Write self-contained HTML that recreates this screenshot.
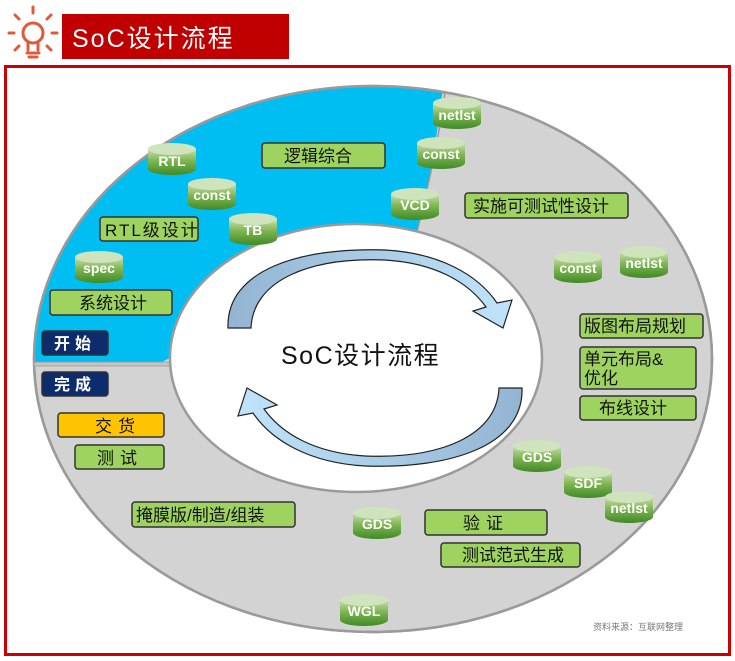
<!DOCTYPE html>
<html><head><meta charset="utf-8"><style>
html,body{margin:0;padding:0;background:#fff;width:735px;height:661px;overflow:hidden}
svg text{font-family:"Liberation Sans","Noto Sans CJK SC",sans-serif}
</style></head><body>
<svg width="735" height="661" viewBox="0 0 735 661" xmlns="http://www.w3.org/2000/svg">
<defs>
<linearGradient id="cyl" x1="0" y1="0" x2="0" y2="1">
<stop offset="0" stop-color="#c9e0b0"/><stop offset="0.45" stop-color="#7fb552"/><stop offset="1" stop-color="#3f8a25"/>
</linearGradient>
<linearGradient id="arr" x1="0" y1="0" x2="1" y2="0">
<stop offset="0" stop-color="#93b4d2"/><stop offset="1" stop-color="#bfe4fb"/>
</linearGradient>
<clipPath id="outer"><ellipse cx="373" cy="359" rx="339" ry="273"/></clipPath>
<g id="c">
<path d="M-24,-9 L-24,11 A24,6 0 0 0 24,11 L24,-9 Z" fill="url(#cyl)"/>
<ellipse cx="0" cy="-9" rx="24" ry="6" fill="#cfe3bd"/>
</g>
</defs>
<!-- header -->
<g stroke="#e05a3a" stroke-width="3" fill="none" stroke-linecap="round">
<circle cx="33" cy="33" r="10"/>
<path d="M28,43 L28,50 M38,43 L38,50 M27,53 L39,53 M29,57 L37,57"/>
<path d="M33,7 L33,13 M14,33 L9,33 M52,33 L57,33 M19,19 L15,15 M47,19 L51,15 M19,46 L15,50 M47,46 L51,50"/>
</g>
<rect x="62" y="14" width="227" height="45" fill="#c00000"/>
<text x="72" y="47" font-size="25" fill="#fff" letter-spacing="2">SoC设计流程</text>
<!-- frame -->
<rect x="5.5" y="66.5" width="724" height="588" fill="none" stroke="#cc0000" stroke-width="3"/>
<!-- outer ring -->
<ellipse cx="373" cy="359" rx="339" ry="273" fill="#d3d3d3" stroke="#9a9a9a" stroke-width="2.5"/>
<g clip-path="url(#outer)">
<path d="M20,363 L20,60 L446,60 C440,120 430,180 418,230 L160,363 Z" fill="#00bdf2"/>
<path d="M446,86 C440,130 430,180 418,228" fill="none" stroke="#9a9a9a" stroke-width="1.5"/>
</g>
<ellipse cx="373" cy="359" rx="339" ry="273" fill="none" stroke="#9a9a9a" stroke-width="2.5"/>
<rect x="34" y="362" width="140" height="4" fill="#c4c4c4" stroke="#9a9a9a" stroke-width="0.8"/>
<ellipse cx="356" cy="358" rx="186" ry="134" fill="#fff" stroke="#9a9a9a" stroke-width="2.5"/>
<!-- arrows -->
<g id="a">
<path d="M228,328 C226,270 300,247 385,250 C440,253 478,275 497,303 L512,300 L503,328 L473,311 L486,307 C468,282 435,263 385,260 C310,257 253,280 251,328 Z" fill="url(#arr)" stroke="#222" stroke-width="1.2"/>
</g>
<use href="#a" transform="rotate(180 375 358)"/>
<text x="281" y="364" font-size="25" fill="#111" letter-spacing="1.5">SoC设计流程</text>
<!-- cylinders -->
<g font-size="14" font-weight="bold" fill="#fff" text-anchor="middle">
<use href="#c" x="172" y="158"/><text x="172" y="166">RTL</text>
<use href="#c" x="212" y="193"/><text x="212" y="200">const</text>
<use href="#c" x="253" y="228"/><text x="253" y="235">TB</text>
<use href="#c" x="99" y="266"/><text x="99" y="273">spec</text>
<use href="#c" x="457" y="112"/><text x="457" y="120">netlst</text>
<use href="#c" x="441" y="152"/><text x="441" y="159">const</text>
<use href="#c" x="415" y="203"/><text x="415" y="210">VCD</text>
<use href="#c" x="578" y="266"/><text x="578" y="273">const</text>
<use href="#c" x="644" y="261"/><text x="644" y="268">netlst</text>
<use href="#c" x="537" y="455"/><text x="537" y="462">GDS</text>
<use href="#c" x="588" y="481"/><text x="588" y="488">SDF</text>
<use href="#c" x="629" y="506"/><text x="629" y="513">netlst</text>
<use href="#c" x="377" y="522"/><text x="377" y="529">GDS</text>
<use href="#c" x="364" y="609"/><text x="364" y="616">WGL</text>
</g>
<!-- boxes -->
<g stroke="#333" stroke-width="1.5">
<rect x="262" y="143" width="123" height="25" rx="3" fill="#9ed35f"/>
<rect x="465" y="193" width="163" height="25" rx="3" fill="#9ed35f"/>
<rect x="100" y="217" width="98" height="24" rx="3" fill="#9ed35f"/>
<rect x="50" y="290" width="122" height="25" rx="3" fill="#9ed35f"/>
<rect x="42" y="331" width="66" height="24" rx="3" fill="#0e2c6b"/>
<rect x="42" y="372" width="66" height="24" rx="3" fill="#0e2c6b"/>
<rect x="58" y="413" width="106" height="24" rx="3" fill="#ffc400"/>
<rect x="75" y="445" width="89" height="24" rx="3" fill="#9ed35f"/>
<rect x="132" y="502" width="163" height="25" rx="3" fill="#9ed35f"/>
<rect x="580" y="314" width="123" height="24" rx="3" fill="#9ed35f"/>
<rect x="580" y="347" width="116" height="42" rx="3" fill="#9ed35f"/>
<rect x="580" y="396" width="116" height="24" rx="3" fill="#9ed35f"/>
<rect x="425" y="510" width="122" height="25" rx="3" fill="#9ed35f"/>
<rect x="441" y="543" width="139" height="24" rx="3" fill="#9ed35f"/>
</g>
<g font-size="17" fill="#111">
<text x="284" y="162">逻辑综合</text>
<text x="473" y="212">实施可测试性设计</text>
<text x="105" y="236" letter-spacing="2">RTL级设计</text>
<text x="79" y="309">系统设计</text>
<text x="95" y="432" letter-spacing="6">交货</text>
<text x="97" y="464" letter-spacing="6">测试</text>
<text x="136" y="521">掩膜版/制造/组装</text>
<text x="584" y="332">版图布局规划</text>
<text x="584" y="365">单元布局&amp;</text>
<text x="584" y="384">优化</text>
<text x="599" y="414">布线设计</text>
<text x="463" y="529" letter-spacing="6">验证</text>
<text x="462" y="561">测试范式生成</text>
<g fill="#fff" font-weight="bold" font-size="16" letter-spacing="5"><text x="54" y="349">开始</text><text x="54" y="390">完成</text></g>
</g>
<text x="593" y="630" font-size="9" fill="#777">资料来源：互联网整理</text>
</svg>
</body></html>
